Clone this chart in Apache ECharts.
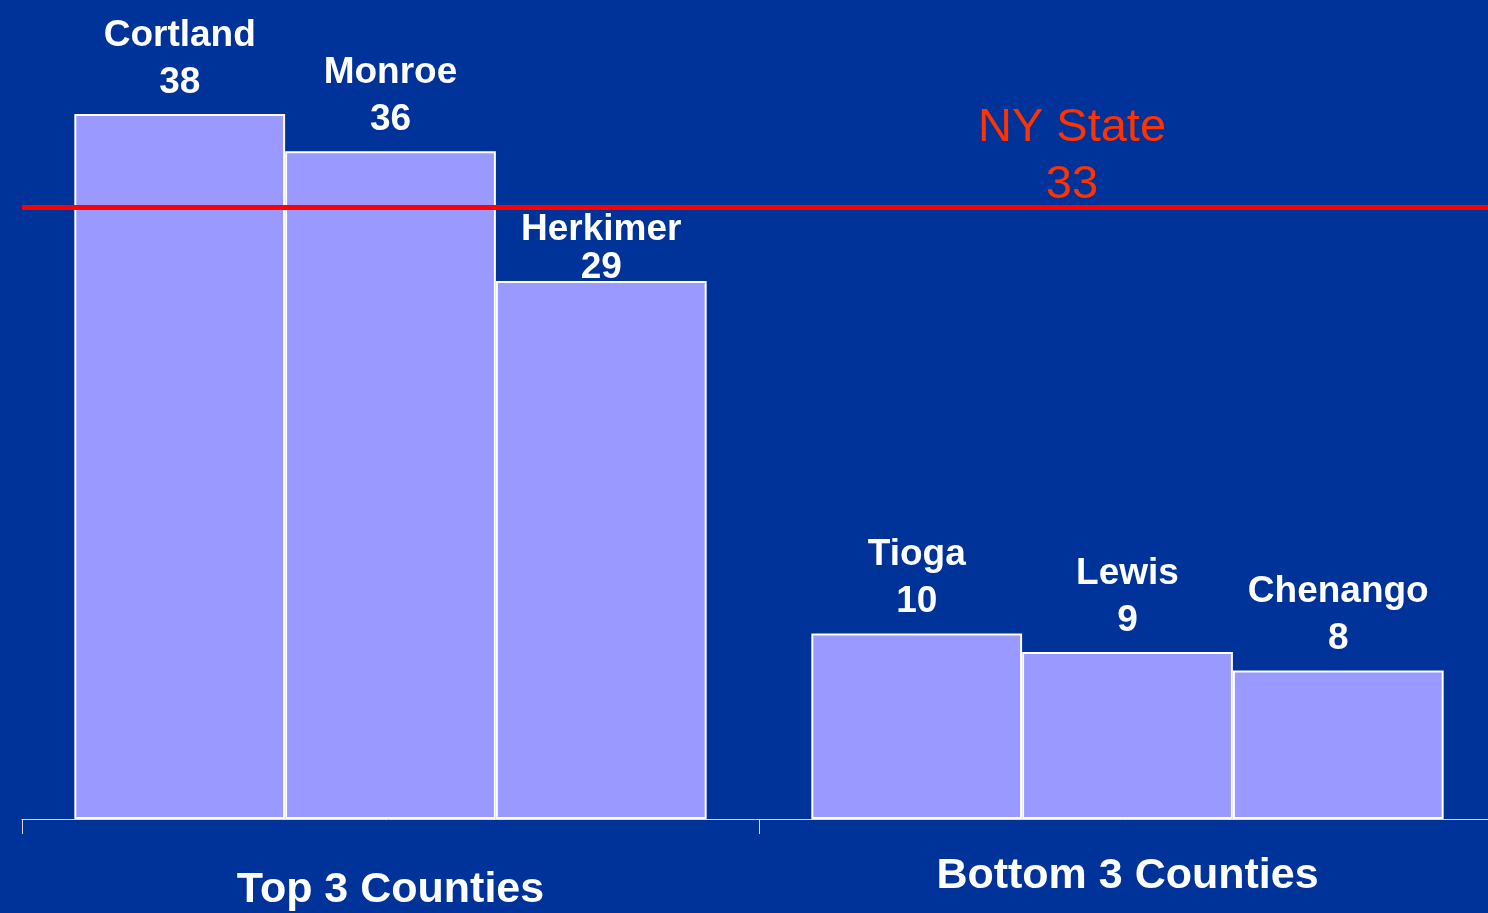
<!DOCTYPE html>
<html>
<head>
<meta charset="utf-8">
<script src="https://cdn.jsdelivr.net/npm/echarts@6/dist/echarts.min.js"></script>
<style>
  html, body { margin: 0; padding: 0; background: #003399; }
  #chart { width: 1488px; height: 913px; }
</style>
</head>
<body>
<div id="chart"></div>
<script>
// 县级数据
var groups = ['Top 3 Counties', 'Bottom 3 Counties'];
var topCounties = ['Cortland', 'Monroe', 'Herkimer'];
var topValues = [38, 36, 29];
var bottomCounties = ['Tioga', 'Lewis', 'Chenango'];
var bottomValues = [10, 9, 8];
var nyStateValue = 33;

// label spacing tweaks (style only), Herkimer sits right under the state line
var labelTweak = { Herkimer: { distance: -6, lineHeight: 38 } };

var myChart = echarts.init(document.getElementById('chart'));

function barItem(name, value) {
  var item = { name: name, value: value };
  if (labelTweak.hasOwnProperty(name)) {
    item.label = labelTweak[name];
  }
  return item;
}

// one series per position inside the group (1st, 2nd, 3rd)
var series = [];
for (let i = 0; i < topCounties.length; i++) {
  series.push({
    type: 'bar',
    barGap: '0%',
    barCategoryGap: '14.2%',
    data: [
      barItem(topCounties[i], topValues[i]),
      barItem(bottomCounties[i], bottomValues[i])
    ],
    itemStyle: {
      color: '#9999ff',
      borderColor: '#ffffff',
      borderWidth: 2
    },
    label: {
      show: true,
      position: 'top',
      distance: 8,
      formatter: function (p) {
        return p.data.name + '\n' + p.data.value;
      },
      color: '#ffffff',
      fontFamily: 'Liberation Sans, Arial, sans-serif',
      fontWeight: 'bold',
      fontSize: 37,
      lineHeight: 47
    },
    emphasis: { disabled: true },
    silent: true
  });
}

// NY State reference line
series[0].markLine = {
  silent: true,
  symbol: 'none',
  data: [{ yAxis: nyStateValue }],
  lineStyle: {
    color: '#ff0000',
    width: 5,
    type: 'solid'
  },
  label: {
    show: true,
    position: 'insideMiddleTop',
    distance: 5,
    offset: [313, 12],
    formatter: function (p) {
      return 'NY State\n' + p.value;
    },
    color: '#ff3300',
    fontFamily: 'Liberation Sans, Arial, sans-serif',
    fontSize: 47,
    lineHeight: 57,
    align: 'center'
  },
  emphasis: { disabled: true }
};

myChart.setOption({
  backgroundColor: '#003399',
  animation: false,
  grid: {
    left: 22,
    right: -8,
    top: 77,
    bottom: 94,
    outerBoundsMode: 'none'
  },
  xAxis: {
    type: 'category',
    data: groups,
    axisLine: {
      lineStyle: { color: '#d8d8ee', width: 1 }
    },
    axisTick: {
      show: true,
      length: 15,
      lineStyle: { color: '#d8d8ee', width: 1 }
    },
    axisLabel: {
      margin: 32,
      formatter: function (v, i) {
        return i === 0 ? '{a|' + v + '}' : '{b|' + v + '}';
      },
      rich: {
        a: {
          color: '#ffffff',
          fontFamily: 'Liberation Sans, Arial, sans-serif',
          fontWeight: 'bold',
          fontSize: 43,
          lineHeight: 50,
          padding: [28, 0, 0, 0]
        },
        b: {
          color: '#ffffff',
          fontFamily: 'Liberation Sans, Arial, sans-serif',
          fontWeight: 'bold',
          fontSize: 43,
          lineHeight: 50
        }
      }
    }
  },
  yAxis: {
    type: 'value',
    min: 0,
    max: 40,
    show: false,
    splitLine: { show: false }
  },
  series: series
});
</script>
</body>
</html>
